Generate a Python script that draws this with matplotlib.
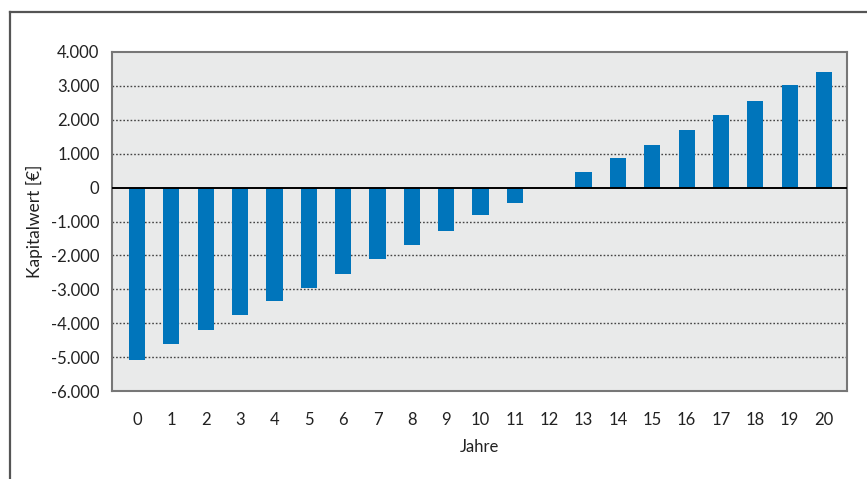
import matplotlib
matplotlib.use("Agg")
import matplotlib.pyplot as plt
from matplotlib.lines import Line2D

plt.rcParams['font.family'] = ['Lato', 'DejaVu Sans']

# Net present value per year
jahre = list(range(21))
kapitalwert = [-5095, -4622, -4209, -3767, -3345, -2950, -2537, -2094, -1681,
               -1268, -816, -442, 0, 451, 864, 1248, 1690, 2133, 2546, 3018, 3401]

y_ticks = [4000, 3000, 2000, 1000, 0, -1000, -2000, -3000, -4000, -5000, -6000]
y_tick_labels = ["4.000", "3.000", "2.000", "1.000", "0", "-1.000", "-2.000",
                 "-3.000", "-4.000", "-5.000", "-6.000"]
x_tick_labels = [str(j) for j in jahre]

W, H = 867, 479
fig = plt.figure(figsize=(W / 100, H / 100), dpi=100)
fig.patch.set_facecolor("white")

# outer frame (top and left edges)
fig.add_artist(Line2D([10 / W, 1.0], [1 - 12 / H, 1 - 12 / H], transform=fig.transFigure,
                      color="#555555", lw=1.6))
fig.add_artist(Line2D([10 / W, 10 / W], [0.0, 1 - 12 / H], transform=fig.transFigure,
                      color="#555555", lw=1.6))

left, right, top, bottom = 112 / W, 847 / W, 1 - 52 / H, 1 - 391 / H
ax = fig.add_axes([left, bottom, right - left, top - bottom])
ax.set_facecolor("#E9EAEA")

ax.bar(jahre, kapitalwert, width=0.47, color="#0075BB", zorder=3)

ax.set_xlim(-0.73, 20.67)
ax.set_ylim(-6000, 4000)

for v in y_ticks:
    if v == 0:
        ax.axhline(0, color="black", lw=1.4, zorder=4)
    elif -6000 < v < 4000:
        ax.axhline(v, color="#444444", lw=1.0, ls=(0, (1.2, 1.4)), zorder=1)

ax.set_yticks(y_ticks)
ax.set_yticklabels(y_tick_labels)
ax.set_xticks(jahre)
ax.set_xticklabels(x_tick_labels)
ax.tick_params(axis="y", length=0, pad=9, labelsize=12, labelcolor="#222222")
ax.tick_params(axis="x", length=0, pad=15, labelsize=12, labelcolor="#222222")

for s in ax.spines.values():
    s.set_color("#777777")
    s.set_linewidth(1.5)

ax.set_xlabel("Jahre", fontsize=12, color="#222222", labelpad=8)
ax.set_ylabel("Kapitalwert [€]", fontsize=12.5, color="#222222", labelpad=6)

fig.savefig("out.png", dpi=100)
